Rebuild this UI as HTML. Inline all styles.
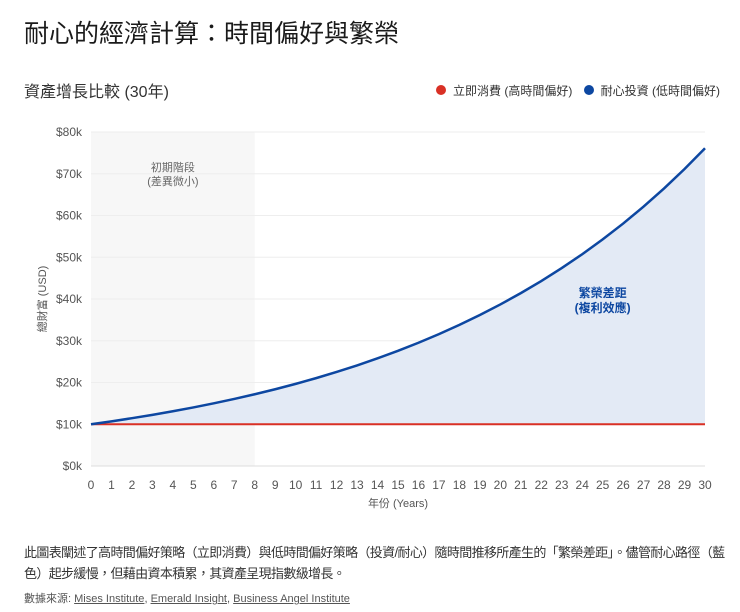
<!DOCTYPE html>
<html><head><meta charset="utf-8">
<style>
body{margin:0;width:740px;height:612px;background:#fff;font-family:"Liberation Sans","Noto Sans CJK TC",sans-serif;color:#222;overflow:hidden;position:relative}
.t{position:absolute;white-space:nowrap}
a{color:#555;text-decoration:underline}
</style></head><body>
<div class="t" style="left:24px;top:14px;font-size:25px;color:#1a1a1a">耐心的經濟計算：時間偏好與繁榮</div>
<div class="t" style="left:24px;top:78px;font-size:16px;color:#333">資產增長比較 (30年)</div>
<div class="t" style="right:20px;top:82px;font-size:12px;color:#333">
<span><span style="display:inline-block;width:10px;height:10px;border-radius:5px;background:#d93025;margin-right:7px"></span>立即消費 (高時間偏好)</span>
<span style="margin-left:8px"><span style="display:inline-block;width:10px;height:10px;border-radius:5px;background:#0d47a1;margin-right:7px"></span>耐心投資 (低時間偏好)</span>
</div>
<svg id="chart" width="740" height="612" style="position:absolute;left:0;top:0" font-family="Liberation Sans, Noto Sans CJK TC, sans-serif"></svg>
<div class="t" style="left:24px;top:542px;font-size:13px;line-height:21px;color:#333;white-space:normal;width:714px;letter-spacing:-0.65px">此圖表闡述了高時間偏好策略（立即消費）與低時間偏好策略（投資/耐心）隨時間推移所產生的「繁榮差距」。儘管耐心路徑（藍色）起步緩慢，但藉由資本積累，其資產呈現指數級增長。</div>
<div class="t" style="left:24px;top:590px;font-size:11px;color:#555">數據來源: <a>Mises Institute</a>, <a>Emerald Insight</a>, <a>Business Angel Institute</a></div>
<script>
const years=[0,1,2,3,4,5,6,7,8,9,10,11,12,13,14,15,16,17,18,19,20,21,22,23,24,25,26,27,28,29,30];
const investValues=[10.00,10.70,11.45,12.25,13.11,14.03,15.01,16.06,17.18,18.38,19.67,21.05,22.52,24.10,25.79,27.59,29.52,31.59,33.80,36.17,38.70,41.41,44.30,47.41,50.72,54.27,58.07,62.14,66.49,71.14,76.12];
const consumeValues=[10,10,10,10,10,10,10,10,10,10,10,10,10,10,10,10,10,10,10,10,10,10,10,10,10,10,10,10,10,10,10];
const yTicks=[0,10,20,30,40,50,60,70,80];
const earlyPhaseEnd=8;
const svg=document.getElementById('chart');const NS='http://www.w3.org/2000/svg';
const X=v=>91+v*(705-91)/30, Y=v=>466-v*(466-132)/80;
function mk(t,a){const e=document.createElementNS(NS,t);for(const k in a)e.setAttribute(k,a[k]);svg.appendChild(e);return e;}
const band=mk('rect',{x:X(0),y:Y(80),width:X(earlyPhaseEnd)-X(0),height:Y(0)-Y(80),fill:'#f7f7f7'});


yTicks.forEach(v=>{
 const g=mk('line',{x1:X(0),x2:X(30),y1:Y(v),y2:Y(v),stroke:v==0?'#ddd':'#eee','stroke-width':1});
 
 
 const t=mk('text',{x:82,y:Y(v)+4,'text-anchor':'end','font-size':12,fill:'#555'});t.textContent='$'+v+'k';
 
 
});
years.forEach(v=>{
 const t=mk('text',{x:X(v),y:489,'text-anchor':'middle','font-size':12,fill:'#555'});t.textContent=v;
 
 
});
const upperPts=years.map((y,i)=>X(y)+','+Y(investValues[i])).join(' ');
const lowerPts=years.map((y,i)=>X(y)+','+Y(consumeValues[i])).reverse().join(' ');
const area=mk('polygon',{points:upperPts+' '+lowerPts,fill:'#e3eaf5'});


const red=mk('polyline',{points:years.map((y,i)=>X(y)+','+Y(consumeValues[i])).join(' '),fill:'none',stroke:'#d93025','stroke-width':2});


const blue=mk('polyline',{points:upperPts,fill:'none',stroke:'#0d47a1','stroke-width':2.5});


function txt(s,x,y,a,name){const t=mk('text',a);t.setAttribute('x',x);t.setAttribute('y',y);t.textContent=s;
 
 }
txt('初期階段',X(4),171,{'text-anchor':'middle','font-size':11,fill:'#666'},'early-phase-label');
txt('(差異微小)',X(4),185,{'text-anchor':'middle','font-size':11,fill:'#666'},'early-phase-sublabel');
txt('繁榮差距',X(25),297,{'text-anchor':'middle','font-size':12,'font-weight':'bold',fill:'#0d47a1'},'gap-label');
txt('(複利效應)',X(25),312,{'text-anchor':'middle','font-size':12,'font-weight':'bold',fill:'#0d47a1'},'gap-sublabel');
txt('年份 (Years)',X(15),507,{'text-anchor':'middle','font-size':11,fill:'#555'},'x-axis-title');
const yt=mk('text',{x:0,y:0,'text-anchor':'middle','font-size':11,fill:'#555',transform:'translate(46,299) rotate(-90)'});yt.textContent='總財富 (USD)';


</script>
</body></html>
